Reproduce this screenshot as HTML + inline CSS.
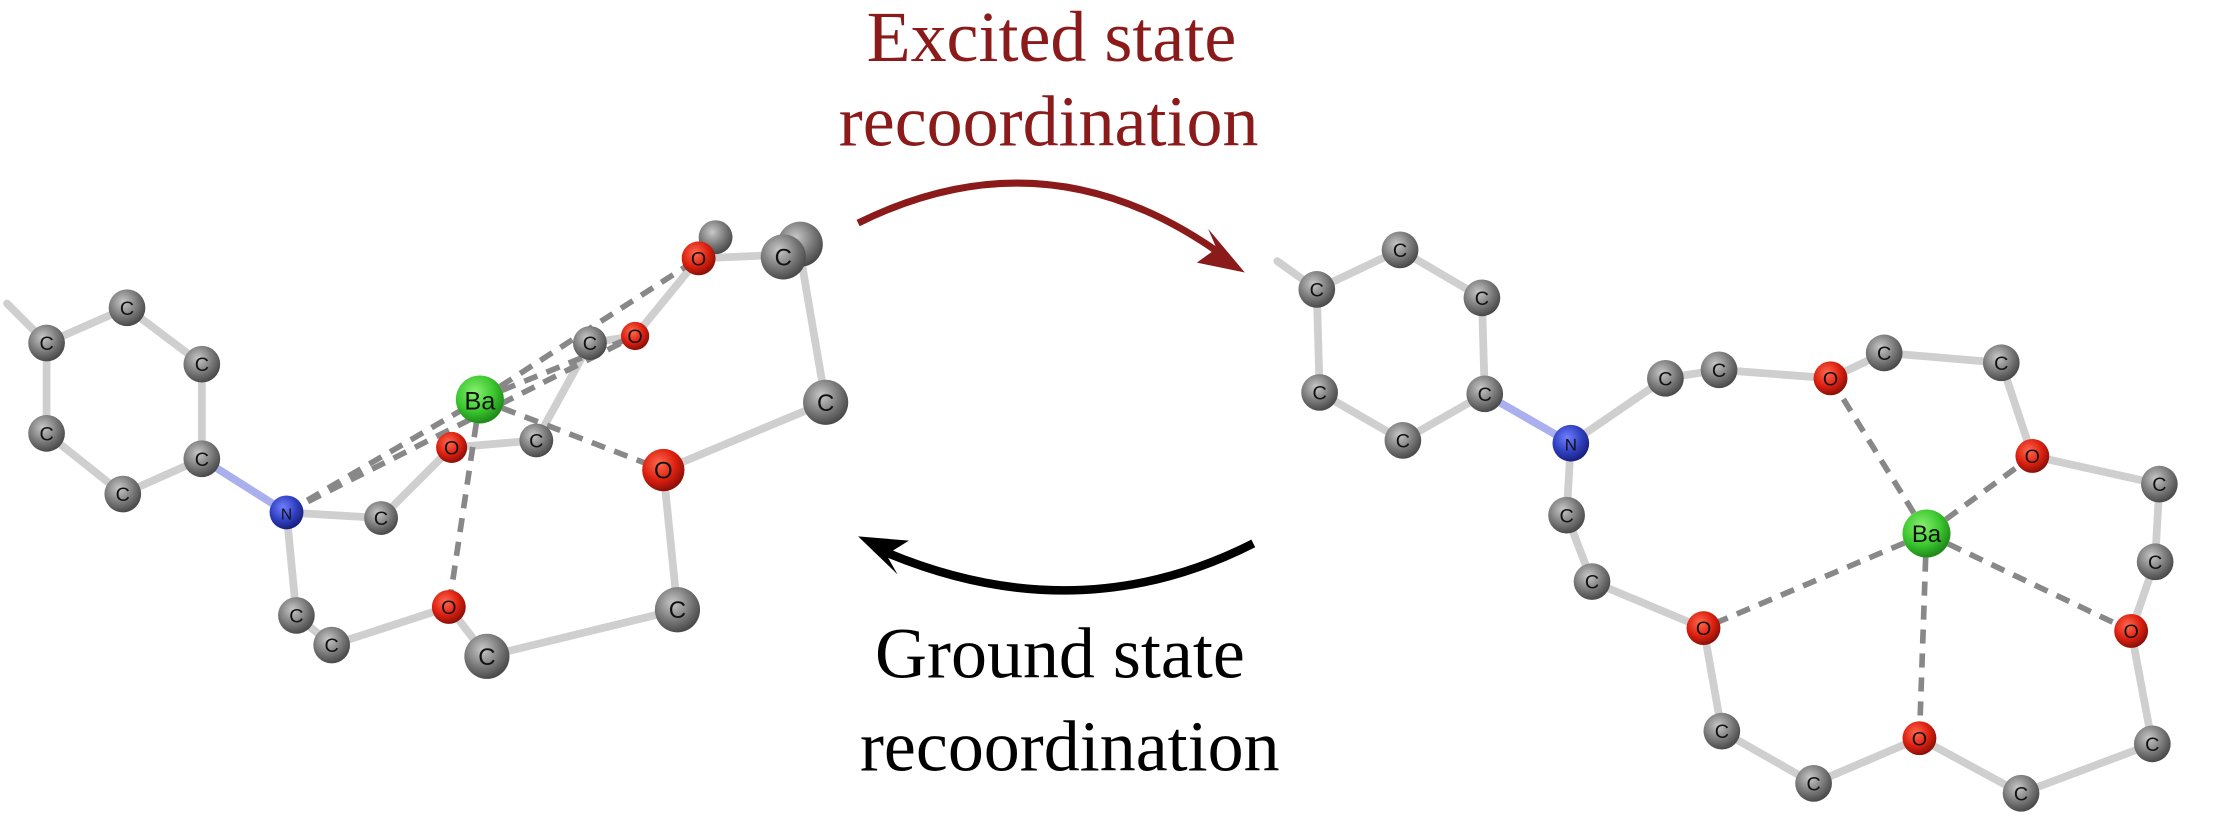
<!DOCTYPE html>
<html><head><meta charset="utf-8"><style>html,body{margin:0;padding:0;background:#fff;}svg{display:block}</style></head>
<body>
<svg width="2213" height="830" viewBox="0 0 1568 588" xmlns="http://www.w3.org/2000/svg">
<defs>
<radialGradient id="gc" cx="40%" cy="35%" r="65%"><stop offset="0" stop-color="#c8c8c8"/><stop offset="0.6" stop-color="#7a7a7a"/><stop offset="1" stop-color="#4a4a4a"/></radialGradient>
<radialGradient id="go" cx="40%" cy="35%" r="65%"><stop offset="0" stop-color="#ff6a50"/><stop offset="0.6" stop-color="#dd2010"/><stop offset="1" stop-color="#8a1008"/></radialGradient>
<radialGradient id="gn" cx="40%" cy="35%" r="65%"><stop offset="0" stop-color="#7080ff"/><stop offset="0.6" stop-color="#3040c0"/><stop offset="1" stop-color="#1a2080"/></radialGradient>
<radialGradient id="gb" cx="40%" cy="35%" r="65%"><stop offset="0" stop-color="#8af070"/><stop offset="0.6" stop-color="#3cc830"/><stop offset="1" stop-color="#1f8a18"/></radialGradient>
</defs>
<g font-family="Liberation Serif, serif" font-size="51" text-anchor="middle">
<text x="745" y="43" fill="#8b1a1a">Excited state</text>
<text x="743" y="103" fill="#8b1a1a">recoordination</text>
<text x="751" y="480" fill="#000">Ground state</text>
<text x="758" y="546" fill="#000">recoordination</text>
</g>
<path d="M608 158 Q745 90 872 185" fill="none" stroke="#8b1a1a" stroke-width="5"/>
<polygon points="882,193 848,186 862,176 856,162" fill="#8b1a1a"/>
<path d="M888 385 Q760 450 620 388" fill="none" stroke="#000" stroke-width="6"/>
<polygon points="608,380 644,383 628,393 636,407" fill="#000"/>

<g stroke="#cfcfcf" stroke-width="5.5" fill="none" stroke-linecap="round">
<polyline points="5,215 33,243 90,218 143,258 143,325 87,350 33,307 33,243"/>
<line x1="143" y1="325" x2="203" y2="363" stroke="#aab0ee"/>
<polyline points="203,363 210,436 235,457"/>
<polyline points="235,457 318,430 345,465 480,432 470,333 585,285 567,180 495,183"/>
<polyline points="203,363 270,367 320,317 380,312"/>
<polyline points="450,238 418,243 380,312"/>
<line x1="495" y1="183" x2="450" y2="238"/>
<polyline points="905,185 933,205 992,177 1050,211 1052,279 994,312 935,278 933,205"/>
<line x1="1052" y1="279" x2="1113" y2="314" stroke="#aab0ee"/>
<polyline points="1113,314 1180,268 1218,262 1297,268 1335,250 1418,257 1440,323 1530,343 1527,398 1510,447 1525,527 1432,562 1360,523 1285,555 1220,518 1207,445 1128,412 1110,365 1113,314"/>
</g>
<g stroke="#888" stroke-width="4" stroke-dasharray="10,7" fill="none">
<line x1="203" y1="363" x2="340" y2="283"/>
<line x1="203" y1="363" x2="450" y2="238"/>
<line x1="340" y1="283" x2="495" y2="183"/>
<line x1="340" y1="283" x2="450" y2="238"/>
<line x1="340" y1="283" x2="470" y2="333"/>
<line x1="340" y1="283" x2="318" y2="430"/>
<line x1="1365" y1="378" x2="1297" y2="268"/>
<line x1="1365" y1="378" x2="1440" y2="323"/>
<line x1="1365" y1="378" x2="1510" y2="447"/>
<line x1="1365" y1="378" x2="1360" y2="523"/>
<line x1="1365" y1="378" x2="1207" y2="445"/>
</g>
<g font-family="Liberation Sans, sans-serif" text-anchor="middle" fill="#111">
<g font-size="14">
<circle cx="33" cy="243" r="13" fill="url(#gc)"/><text x="33" y="248">C</text>
<circle cx="90" cy="218" r="13" fill="url(#gc)"/><text x="90" y="223">C</text>
<circle cx="143" cy="258" r="13" fill="url(#gc)"/><text x="143" y="263">C</text>
<circle cx="143" cy="325" r="13" fill="url(#gc)"/><text x="143" y="330">C</text>
<circle cx="87" cy="350" r="13" fill="url(#gc)"/><text x="87" y="355">C</text>
<circle cx="33" cy="307" r="13" fill="url(#gc)"/><text x="33" y="312">C</text>
<circle cx="203" cy="363" r="12" fill="url(#gn)"/><text x="203" y="368" font-size="11">N</text>
<circle cx="270" cy="367" r="12" fill="url(#gc)"/><text x="270" y="372">C</text>
<circle cx="210" cy="436" r="13" fill="url(#gc)"/><text x="210" y="441">C</text>
<circle cx="235" cy="457" r="13" fill="url(#gc)"/><text x="235" y="462">C</text>
<circle cx="318" cy="430" r="12" fill="url(#go)"/><text x="318" y="435">O</text>
<circle cx="380" cy="312" r="12" fill="url(#gc)"/><text x="380" y="317">C</text>
<circle cx="418" cy="243" r="12" fill="url(#gc)"/><text x="418" y="248">C</text>
<circle cx="450" cy="238" r="10" fill="url(#go)"/><text x="450" y="243">O</text>
<circle cx="507" cy="168" r="12" fill="url(#gc)"/>
<circle cx="495" cy="183" r="12" fill="url(#go)"/><text x="495" y="188">O</text>
<circle cx="320" cy="317" r="11" fill="url(#go)"/><text x="320" y="322">O</text>
</g>
<g font-size="17">
<circle cx="567" cy="173" r="16" fill="url(#gc)"/>
<circle cx="555" cy="182" r="16" fill="url(#gc)"/><text x="555" y="188">C</text>
<circle cx="585" cy="285" r="16" fill="url(#gc)"/><text x="585" y="291">C</text>
<circle cx="470" cy="333" r="15" fill="url(#go)"/><text x="470" y="339">O</text>
<circle cx="345" cy="465" r="16" fill="url(#gc)"/><text x="345" y="471">C</text>
<circle cx="480" cy="432" r="16" fill="url(#gc)"/><text x="480" y="438">C</text>
<circle cx="340" cy="283" r="17" fill="url(#gb)"/><text x="340" y="290" font-size="18">Ba</text>
</g>
<g font-size="14">
<circle cx="933" cy="205" r="13" fill="url(#gc)"/><text x="933" y="210">C</text>
<circle cx="992" cy="177" r="13" fill="url(#gc)"/><text x="992" y="182">C</text>
<circle cx="1050" cy="211" r="13" fill="url(#gc)"/><text x="1050" y="216">C</text>
<circle cx="1052" cy="279" r="13" fill="url(#gc)"/><text x="1052" y="284">C</text>
<circle cx="994" cy="312" r="13" fill="url(#gc)"/><text x="994" y="317">C</text>
<circle cx="935" cy="278" r="13" fill="url(#gc)"/><text x="935" y="283">C</text>
<circle cx="1113" cy="314" r="13" fill="url(#gn)"/><text x="1113" y="319" font-size="12">N</text>
<circle cx="1110" cy="365" r="13" fill="url(#gc)"/><text x="1110" y="370">C</text>
<circle cx="1128" cy="412" r="13" fill="url(#gc)"/><text x="1128" y="417">C</text>
<circle cx="1207" cy="445" r="12" fill="url(#go)"/><text x="1207" y="450">O</text>
<circle cx="1220" cy="518" r="13" fill="url(#gc)"/><text x="1220" y="523">C</text>
<circle cx="1285" cy="555" r="13" fill="url(#gc)"/><text x="1285" y="560">C</text>
<circle cx="1360" cy="523" r="12" fill="url(#go)"/><text x="1360" y="528">O</text>
<circle cx="1432" cy="562" r="13" fill="url(#gc)"/><text x="1432" y="567">C</text>
<circle cx="1525" cy="527" r="13" fill="url(#gc)"/><text x="1525" y="532">C</text>
<circle cx="1510" cy="447" r="12" fill="url(#go)"/><text x="1510" y="452">O</text>
<circle cx="1527" cy="398" r="13" fill="url(#gc)"/><text x="1527" y="403">C</text>
<circle cx="1530" cy="343" r="13" fill="url(#gc)"/><text x="1530" y="348">C</text>
<circle cx="1440" cy="323" r="12" fill="url(#go)"/><text x="1440" y="328">O</text>
<circle cx="1418" cy="257" r="13" fill="url(#gc)"/><text x="1418" y="262">C</text>
<circle cx="1335" cy="250" r="13" fill="url(#gc)"/><text x="1335" y="255">C</text>
<circle cx="1297" cy="268" r="12" fill="url(#go)"/><text x="1297" y="273">O</text>
<circle cx="1218" cy="262" r="13" fill="url(#gc)"/><text x="1218" y="267">C</text>
<circle cx="1180" cy="268" r="13" fill="url(#gc)"/><text x="1180" y="273">C</text>
<circle cx="1365" cy="378" r="17" fill="url(#gb)"/><text x="1365" y="384" font-size="17">Ba</text>
</g>
</g>
</svg>
</body></html>
